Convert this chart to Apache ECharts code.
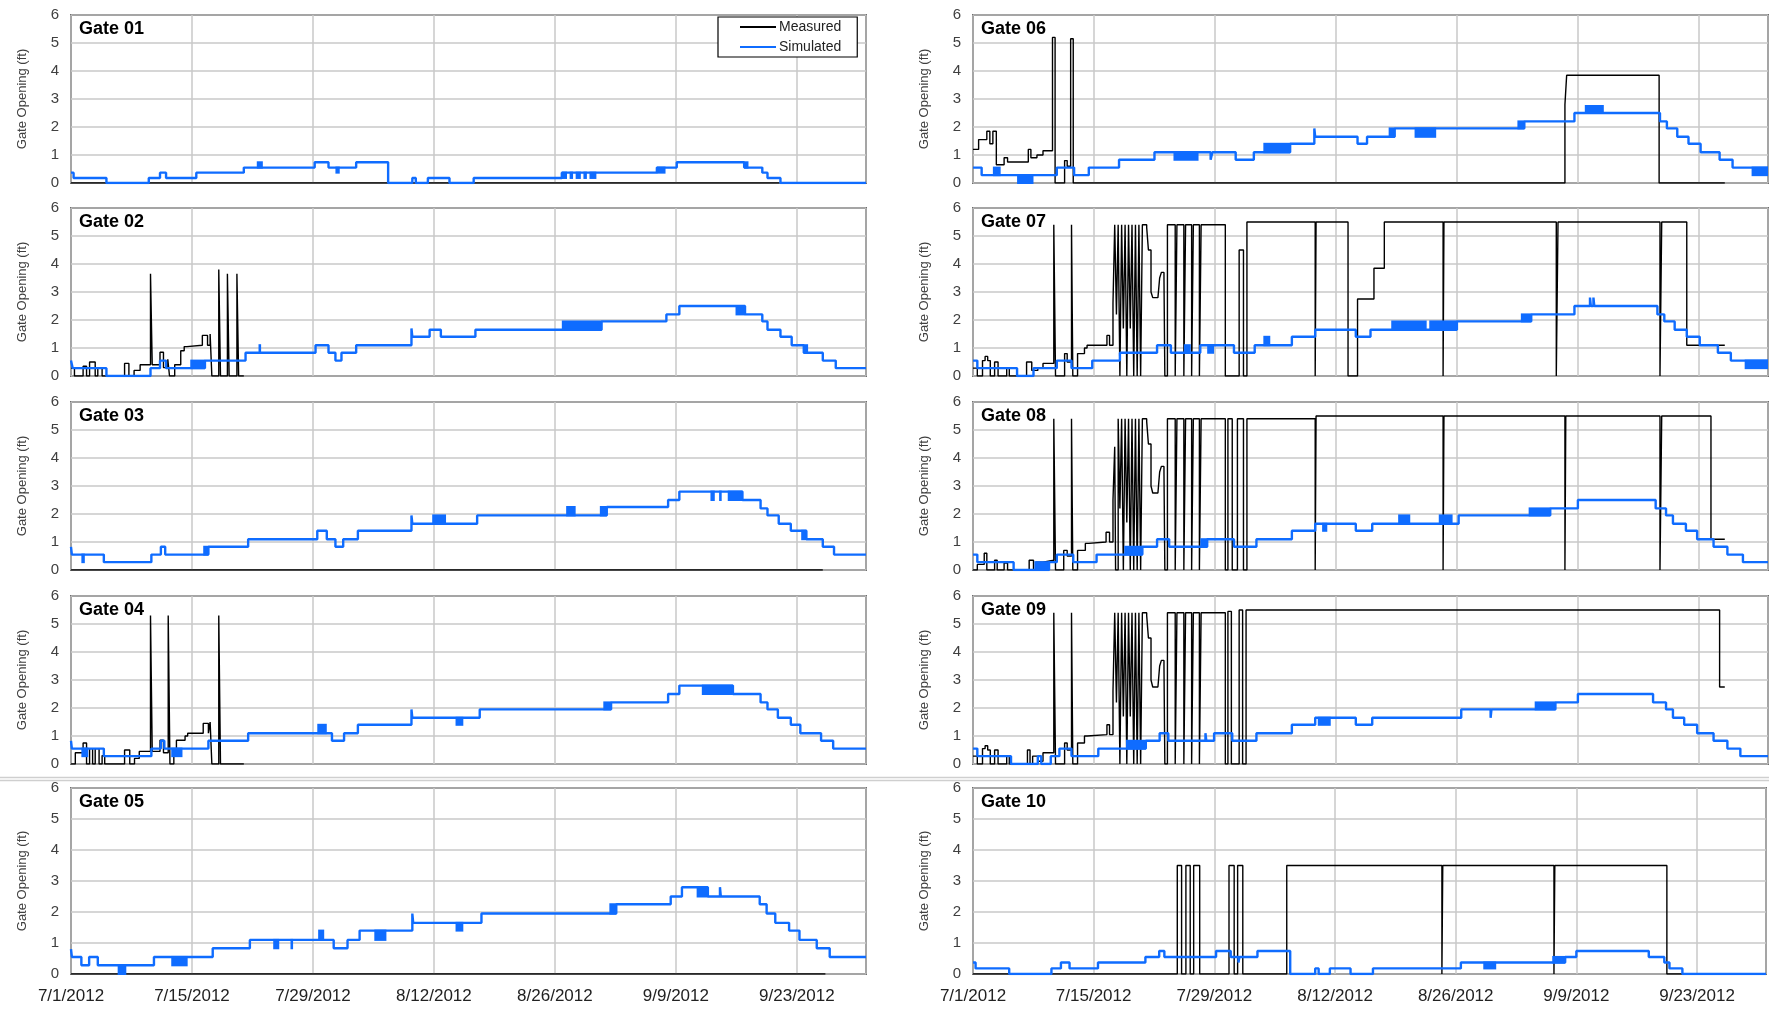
<!DOCTYPE html>
<html>
<head>
<meta charset="utf-8">
<style>
  html, body { margin: 0; padding: 0; background: #fff; }
  #chart { width: 1769px; height: 1012px; }
</style>
<script src="https://cdn.jsdelivr.net/npm/echarts@6/dist/echarts.min.js"></script>
</head>
<body>
<div id="chart"></div>
<script>
// x values are days since 7/1/2012; y values are gate opening in ft.
// Series are step lines: each [day, value] holds until the next point.
// Blocks are periods of dense flicker between two levels: [dayFrom, dayTo, low, high].

var gateNames = ['Gate 01', 'Gate 02', 'Gate 03', 'Gate 04', 'Gate 05',
                 'Gate 06', 'Gate 07', 'Gate 08', 'Gate 09', 'Gate 10'];
var xTickLabels = ['7/1/2012', '7/15/2012', '7/29/2012', '8/12/2012', '8/26/2012', '9/9/2012', '9/23/2012'];
var yTicks = [0, 1, 2, 3, 4, 5, 6];

var meas01 = [[0,0],[82,0]];
var sim01 = [[0,0.37],[0.3,0.18],[4.1,0],[9.0,0.18],[10.3,0.37],[11.0,0.18],[14.5,0.37],[20.0,0.55],[28.2,0.74],[29.8,0.55],[33.0,0.74],[36.7,0],[39.5,0.18],[39.9,0],[41.3,0.18],[43.8,0],[46.6,0.18],[56.8,0.37],[67.8,0.55],[70.1,0.74],[77.9,0.55],[80.0,0.37],[80.6,0.18],[82.1,0],[92,0]];
var blk01 = [[21.5,22.2,0.55,0.74],[30.6,31.1,0.37,0.55],[56.8,57.4,0.18,0.37],[57.7,58.1,0.18,0.37],[58.4,59.0,0.18,0.37],[59.3,59.7,0.18,0.37],[60.0,60.8,0.18,0.37],[67.8,68.8,0.37,0.55],[77.9,78.4,0.55,0.74]];

var meas02 = [[0,0.28],[0.4,0],[1.4,0.35],[1.8,0],[2.15,0.5],[2.8,0],[3.1,0.3],[3.6,0],[6.2,0.45],[6.7,0],[7.3,0.2],[8.0,0.4],[9.2,3.65],[9.4,0.4],[10.3,0.85],[10.7,0.3],[11.2,0.6],[11.4,0],[12.0,0.4],[12.7,0.9],[13.1,1.05],[13.4,1.1],[15.2,1.45],[15.8,1.1],[16.1,1.5],[16.3,0],[17.1,3.8],[17.3,0],[18.1,3.65],[18.3,0],[19.2,3.65],[19.4,0],[20,0]];
var sim02 = [[0,0.55],[0.2,0.28],[4.1,0],[9.2,0.28],[10.3,0.55],[11.0,0.28],[15.5,0.55],[20.2,0.83],[28.3,1.1],[29.8,0.83],[30.6,0.55],[31.3,0.83],[33.0,1.1],[39.4,1.7],[39.5,1.4],[41.5,1.65],[42.8,1.4],[46.8,1.65],[61.4,1.95],[68.9,2.2],[70.4,2.5],[78.0,2.2],[80.0,1.95],[80.6,1.65],[82.1,1.4],[83.4,1.1],[84.8,0.83],[87.0,0.55],[88.5,0.28],[92,0.28]];
var blk02 = [[13.8,15.5,0.28,0.55],[21.7,22.0,0.83,1.1],[56.8,61.4,1.65,1.95],[76.9,78.0,2.2,2.5],[84.8,85.3,0.83,1.1]];

var meas03 = [[0,0],[87,0]];
var sim03 = [[0,0.83],[0.1,0.55],[3.8,0.28],[9.3,0.55],[10.4,0.83],[10.9,0.55],[15.9,0.83],[20.5,1.1],[28.5,1.4],[29.6,1.1],[30.6,0.83],[31.5,1.1],[33.2,1.4],[39.4,1.95],[39.5,1.65],[47.0,1.95],[62.0,2.25],[69.1,2.5],[70.4,2.8],[77.7,2.5],[79.8,2.2],[80.6,1.95],[81.9,1.65],[83.3,1.4],[85.1,1.1],[87.0,0.83],[88.3,0.55],[92,0.55]];
var blk03 = [[1.2,1.6,0.28,0.55],[15.3,15.9,0.55,0.83],[41.8,43.4,1.65,1.95],[57.3,58.4,1.95,2.25],[61.2,62.0,1.95,2.25],[74.0,74.5,2.5,2.8],[75.0,75.3,2.5,2.8],[76.0,77.7,2.5,2.8],[84.5,85.1,1.1,1.4]];

var meas04 = [[0,0],[0.5,0.4],[1.4,0.75],[1.8,0],[2.15,0.55],[2.5,0],[2.8,0.55],[3.25,0],[3.6,0.3],[3.9,0],[6.2,0.5],[6.8,0],[7.35,0.2],[7.9,0.45],[9.2,5.3],[9.4,0.45],[10.3,0.85],[10.7,0.4],[11.25,5.3],[11.45,0],[11.9,0.5],[12.2,0.85],[13.2,1.0],[13.5,1.1],[15.3,1.45],[15.9,1.1],[16.1,1.5],[16.3,0],[17.1,5.3],[17.3,0],[20,0]];
var sim04 = [[0,0.83],[0.1,0.55],[3.8,0.28],[9.3,0.55],[10.4,0.83],[10.8,0.55],[15.9,0.83],[20.5,1.1],[30.2,0.83],[31.6,1.1],[33.2,1.4],[39.4,1.95],[39.5,1.65],[47.3,1.95],[62.5,2.2],[69.1,2.5],[70.4,2.8],[76.6,2.5],[79.8,2.2],[80.6,1.95],[81.8,1.65],[83.3,1.4],[84.4,1.1],[86.8,0.83],[88.2,0.55],[92,0.55]];
var blk04 = [[1.2,2.0,0.28,0.55],[11.6,12.9,0.28,0.55],[28.5,29.6,1.1,1.4],[44.5,45.4,1.4,1.65],[61.6,62.5,1.95,2.2],[73.0,76.6,2.5,2.8]];

var meas05 = [[0,0],[87.3,0]];
var sim05 = [[0,0.8],[0.1,0.55],[1.2,0.28],[2.1,0.55],[3.1,0.28],[9.6,0.55],[16.4,0.83],[20.7,1.1],[30.4,0.83],[32.0,1.1],[33.4,1.4],[39.5,1.95],[39.6,1.65],[47.5,1.95],[63.1,2.25],[69.4,2.5],[70.7,2.8],[73.7,2.5],[75.1,2.8],[75.2,2.5],[79.7,2.25],[80.5,1.95],[81.5,1.65],[83.1,1.4],[84.3,1.1],[86.3,0.83],[87.8,0.55],[92,0.55]];
var blk05 = [[5.4,6.4,0,0.28],[11.6,13.5,0.28,0.55],[23.4,24.1,0.83,1.1],[25.4,25.7,0.83,1.1],[28.6,29.3,1.1,1.4],[35.1,36.5,1.1,1.4],[44.5,45.4,1.4,1.65],[62.3,63.1,1.95,2.25],[72.4,73.7,2.5,2.8]];

var meas06 = [[0,1.2],[0.65,1.55],[1.6,1.85],[1.95,1.4],[2.3,1.85],[2.7,0.65],[3.6,0.9],[4.0,0.75],[6.4,1.2],[6.7,0.9],[7.4,1.0],[8.1,1.15],[9.2,5.2],[9.5,0],[10.6,0.8],[10.9,0.6],[11.3,5.15],[11.6,0],[68.5,2.8],[68.7,3.85],[79.4,0],[87,0]];
var sim06 = [[0,0.55],[1.0,0.28],[9.7,0.55],[11.7,0.28],[13.4,0.55],[16.9,0.83],[21.0,1.1],[27.5,0.83],[27.7,1.1],[30.4,0.83],[32.5,1.1],[36.7,1.4],[39.5,1.95],[39.6,1.65],[44.5,1.4],[45.6,1.65],[48.8,1.95],[63.8,2.2],[69.6,2.5],[79.5,2.2],[80.3,1.95],[81.5,1.65],[82.8,1.4],[84.2,1.1],[86.4,0.83],[87.9,0.55],[92,0.55]];
var blk06 = [[2.3,3.2,0.28,0.55],[5.1,7.0,0,0.28],[23.2,26.1,0.83,1.1],[33.6,36.7,1.1,1.4],[48.1,48.8,1.65,1.95],[51.1,53.6,1.65,1.95],[63.0,63.8,1.95,2.2],[70.8,73.0,2.5,2.75],[90.1,92,0.28,0.55]];

var meas07 = [[0,0.28],[0.5,0],[1.1,0.55],[1.4,0.7],[1.7,0.55],[2.0,0],[2.5,0.5],[2.9,0],[3.9,0.28],[4.2,0],[6.2,0.5],[6.8,0.2],[7.5,0.28],[8.1,0.45],[9.35,5.4],[9.55,0],[10.6,0.8],[10.9,0.5],[11.4,5.4],[11.55,0],[12.1,0.8],[12.9,1.0],[13.2,1.1],[15.5,1.45],[15.8,1.1],[16.2,2.6],[16.4,5.4],[16.6,2.2],[16.8,5.4],[17.0,0],[17.2,5.4],[17.4,1.7],[17.6,5.4],[17.8,0],[18.0,5.4],[18.2,1.7],[18.4,5.4],[18.6,0],[18.8,5.4],[19.0,0],[19.2,5.4],[19.4,0],[19.6,5.4],[20.1,5.3],[20.3,4.5],[20.6,3.0],[20.8,2.8],[21.4,2.8],[21.6,3.5],[21.8,3.7],[22.1,3.5],[22.2,0],[22.5,5.4],[23.4,0],[23.6,5.4],[24.4,0],[24.6,5.4],[25.3,0],[25.5,5.4],[26.2,0],[26.4,5.4],[29.2,0],[30.8,4.5],[31.3,0],[31.7,5.5],[39.6,0],[39.7,5.5],[43.4,0],[44.5,2.75],[46.4,3.85],[47.6,5.5],[54.4,0],[54.5,5.5],[67.5,0],[67.7,5.5],[79.5,0],[79.7,5.5],[82.6,1.1],[87,1.1]];
var sim07 = [[0,0.55],[0.5,0.28],[5.1,0],[7.0,0.28],[9.7,0.55],[11.4,0.28],[13.8,0.55],[17.0,0.83],[21.3,1.1],[22.9,0.83],[26.3,1.1],[30.2,0.83],[32.6,1.1],[36.9,1.4],[39.6,1.65],[44.3,1.4],[46.0,1.65],[56.0,1.95],[64.6,2.2],[69.6,2.5],[71.4,2.8],[71.5,2.5],[71.8,2.8],[71.9,2.5],[79.2,2.2],[80.0,1.95],[81.2,1.65],[82.6,1.4],[84.1,1.1],[86.2,0.83],[87.7,0.55],[92,0.55]];
var blk07 = [[24.4,25.2,0.83,1.1],[27.1,27.9,0.83,1.1],[33.6,34.4,1.1,1.4],[48.4,52.5,1.65,1.95],[52.8,56.0,1.65,1.95],[63.4,64.6,1.95,2.2],[89.3,92,0.28,0.55]];

var meas08 = [[0,0],[0.5,0.2],[1.3,0.6],[1.6,0],[2.5,0.35],[2.8,0],[3.6,0.25],[4.0,0],[6.5,0.35],[7.0,0],[7.3,0.28],[8.1,0.35],[9.35,5.4],[9.55,0],[10.5,0.7],[10.9,0.5],[11.4,5.4],[11.55,0],[12.1,0.7],[13.0,0.95],[13.4,1.0],[15.4,1.35],[15.8,1.0],[16.2,2.5],[16.4,4.4],[16.5,0],[16.8,5.4],[17.0,2.2],[17.2,5.4],[17.4,0],[17.6,5.4],[17.8,1.7],[18.0,5.4],[18.2,0],[18.4,5.4],[18.6,0],[18.8,5.4],[19.0,0],[19.2,5.4],[19.4,0],[19.6,5.4],[20.1,5.3],[20.3,4.5],[20.6,3.0],[20.8,2.75],[21.4,2.75],[21.6,3.5],[21.8,3.7],[22.1,3.5],[22.2,0],[22.5,5.4],[23.4,0],[23.6,5.4],[24.4,0],[24.6,5.4],[25.3,0],[25.5,5.4],[26.2,0],[26.4,5.4],[29.2,0],[29.5,5.4],[30.0,0],[30.6,5.4],[31.3,0],[31.7,5.4],[39.6,0],[39.7,5.5],[54.4,0],[54.5,5.5],[68.5,0],[68.6,5.5],[79.5,0],[79.7,5.5],[85.4,1.1],[87,1.1]];
var sim08 = [[0,0.55],[0.5,0.28],[4.7,0],[8.8,0.28],[9.7,0.55],[11.6,0.28],[14.3,0.55],[19.6,0.83],[21.3,1.1],[22.7,0.83],[27.1,1.1],[30.2,0.83],[32.8,1.1],[36.9,1.4],[39.6,1.65],[44.3,1.4],[46.2,1.65],[56.2,1.95],[66.8,2.2],[70.0,2.5],[79.0,2.2],[80.2,1.95],[81.0,1.65],[82.5,1.4],[83.8,1.1],[85.7,0.83],[87.3,0.55],[89.1,0.28],[92,0.28]];
var blk08 = [[7.1,8.8,0,0.28],[17.5,19.6,0.55,0.83],[26.3,27.1,0.83,1.1],[40.4,41.0,1.4,1.65],[49.2,50.6,1.65,1.95],[53.9,55.5,1.65,1.95],[64.3,66.8,1.95,2.2]];

var meas09 = [[0,0.28],[0.5,0],[1.1,0.55],[1.4,0.65],[1.7,0.5],[2.0,0],[2.5,0.5],[2.9,0],[3.9,0.28],[4.2,0],[6.3,0.5],[6.6,0],[6.9,0.28],[7.5,0.1],[8.1,0.4],[9.35,5.4],[9.55,0],[10.6,0.75],[10.9,0.5],[11.4,5.4],[11.55,0],[12.1,0.75],[12.9,1.0],[13.2,1.05],[15.5,1.4],[15.8,1.05],[16.2,2.6],[16.4,5.4],[16.6,2.2],[16.8,5.4],[17.0,0],[17.2,5.4],[17.4,1.7],[17.6,5.4],[17.8,0],[18.0,5.4],[18.2,1.7],[18.4,5.4],[18.6,0],[18.8,5.4],[19.0,0],[19.2,5.4],[19.4,0],[19.6,5.4],[20.1,5.3],[20.3,4.5],[20.6,3.0],[20.8,2.75],[21.4,2.75],[21.6,3.5],[21.8,3.7],[22.1,3.5],[22.2,0],[22.5,5.4],[23.4,0],[23.6,5.4],[24.4,0],[24.6,5.4],[25.3,0],[25.5,5.4],[26.2,0],[26.4,5.4],[29.2,0],[29.5,5.45],[29.9,0],[30.8,5.5],[31.2,0],[31.6,5.5],[86.4,2.75],[87,2.75]];
var sim09 = [[0,0.55],[0.5,0.28],[4.4,0],[7.5,0.28],[7.9,0],[9.0,0.28],[10.0,0.55],[11.4,0.28],[14.5,0.55],[20.0,0.83],[21.6,1.1],[22.6,0.83],[26.9,1.1],[27.0,0.83],[27.9,1.1],[30.0,0.83],[32.8,1.1],[36.9,1.4],[39.6,1.65],[44.3,1.4],[46.2,1.65],[56.5,1.95],[59.9,1.65],[60.0,1.95],[67.4,2.2],[70.0,2.5],[78.7,2.2],[80.2,1.95],[81.0,1.65],[82.3,1.4],[83.8,1.1],[85.7,0.83],[87.3,0.55],[88.8,0.28],[92,0.28]];
var blk09 = [[17.7,20.0,0.55,0.83],[39.9,41.4,1.4,1.65],[65.0,67.4,1.95,2.2]];

var meas10 = [[0,0],[23.7,3.5],[24.2,0],[24.7,3.5],[25.2,0],[25.6,3.5],[26.3,0],[29.7,3.5],[30.3,0],[30.7,3.5],[31.3,0],[36.4,3.5],[54.4,0],[54.5,3.5],[67.4,0],[67.5,3.5],[80.5,0],[87,0]];
var sim10 = [[0,0.37],[0.3,0.18],[4.2,0],[9.1,0.18],[10.2,0.37],[11.2,0.18],[14.5,0.37],[20.0,0.55],[21.6,0.74],[22.2,0.55],[28.2,0.74],[29.9,0.55],[30.8,0.37],[30.9,0.55],[33.0,0.74],[36.8,0],[39.7,0.18],[40.1,0],[41.4,0.18],[43.8,0],[46.4,0.18],[56.6,0.37],[68.7,0.55],[70.0,0.74],[78.4,0.55],[80.2,0.37],[80.8,0.18],[82.3,0],[92,0]];
var blk10 = [[59.2,60.7,0.18,0.37],[67.2,68.7,0.37,0.55]];

var measured = [meas01, meas02, meas03, meas04, meas05, meas06, meas07, meas08, meas09, meas10];
var simulated = [sim01, sim02, sim03, sim04, sim05, sim06, sim07, sim08, sim09, sim10];
var blocks = [blk01, blk02, blk03, blk04, blk05, blk06, blk07, blk08, blk09, blk10];

(function() {
  var chart = echarts.init(document.getElementById('chart'), null, { renderer: 'canvas' });

  var simColor = '#0f6cff';
  var measColor = '#000000';
  var gridColor = '#c9c9c9';
  var labelColor = '#404040';
  var font = "'Liberation Sans', Arial, sans-serif";

  // panel layout (px)
  var colLeft = [71, 973];
  var colWidth = 795;
  var rowTop = [15, 208, 402, 596, 788];
  var rowHeight = [168, 168, 168, 168, 186];

  var grids = [], xAxes = [], yAxes = [], titles = [], series = [];

  gateNames.forEach(function(name, i) {
    var col = i < 5 ? 0 : 1;
    var row = i % 5;
    var bottomRow = row === 4;

    grids.push({
      left: colLeft[col], top: rowTop[row], width: colWidth, height: rowHeight[row],
      show: true, borderColor: '#000', borderWidth: 1.5, backgroundColor: 'transparent'
    });

    xAxes.push({
      type: 'value', gridIndex: i, min: 0, max: 92, interval: 14,
      axisLine: { show: false }, axisTick: { show: false },
      splitLine: { show: true, lineStyle: { color: gridColor, width: 1.5 } },
      axisLabel: {
        show: bottomRow, margin: 14, color: '#222', fontSize: 17, fontFamily: font,
        formatter: function(v) { return v % 14 === 0 ? (xTickLabels[v / 14] || '') : ''; }
      }
    });

    yAxes.push({
      type: 'value', gridIndex: i, min: yTicks[0], max: yTicks[yTicks.length - 1], interval: 1,
      name: 'Gate Opening (ft)', nameLocation: 'middle', nameGap: 42, nameRotate: 90,
      nameTextStyle: { color: labelColor, fontSize: 13, fontFamily: font },
      axisLine: { show: false }, axisTick: { show: false },
      splitLine: { show: true, lineStyle: { color: gridColor, width: 1.5 } },
      axisLabel: { color: labelColor, fontSize: 15, fontFamily: font, margin: 12 }
    });

    titles.push({
      text: name, left: colLeft[col] + 8, top: rowTop[row] + 5, padding: 0,
      textStyle: { fontSize: 18, fontWeight: 'bold', color: '#000', fontFamily: font }
    });

    series.push({
      name: 'Measured', type: 'line', xAxisIndex: i, yAxisIndex: i,
      step: 'end', showSymbol: false, data: measured[i],
      color: measColor, lineStyle: { color: measColor, width: 1.4 }, z: 2
    });
    series.push({
      name: 'Simulated', type: 'line', xAxisIndex: i, yAxisIndex: i,
      step: 'end', showSymbol: false, data: simulated[i],
      color: simColor, lineStyle: { color: simColor, width: 2.4 }, z: 3
    });
    series.push({
      type: 'custom', xAxisIndex: i, yAxisIndex: i, data: blocks[i], z: 3,
      encode: { x: [0, 1], y: [2, 3] },
      renderItem: function(params, api) {
        var p0 = api.coord([api.value(0), api.value(3)]);
        var p1 = api.coord([api.value(1), api.value(2)]);
        return {
          type: 'rect',
          shape: { x: p0[0], y: p0[1] - 1, width: Math.max(p1[0] - p0[0], 1.5), height: p1[1] - p0[1] + 2 },
          style: { fill: simColor }
        };
      }
    });
  });

  chart.setOption({
    animation: false,
    backgroundColor: '#fff',
    title: titles,
    grid: grids,
    xAxis: xAxes,
    yAxis: yAxes,
    legend: {
      data: ['Measured', 'Simulated'],
      orient: 'vertical', left: 718, top: 17,
      icon: 'rect', itemWidth: 36, itemHeight: 2, itemGap: 6,
      padding: [3, 16, 3, 22],
      borderColor: '#000', borderWidth: 1.2, backgroundColor: '#fff',
      textStyle: { color: '#222', fontSize: 14, fontFamily: font, padding: [0, 0, 0, -2] }
    },
    graphic: [
      { type: 'line', shape: { x1: 0, y1: 777.5, x2: 1769, y2: 777.5 }, style: { stroke: '#cfcfcf', lineWidth: 1.5 } },
      { type: 'line', shape: { x1: 0, y1: 780.5, x2: 1769, y2: 780.5 }, style: { stroke: '#cfcfcf', lineWidth: 1.5 } }
    ],
    series: series
  });

  window.addEventListener('resize', function() { chart.resize(); });
})();
</script>
</body>
</html>
